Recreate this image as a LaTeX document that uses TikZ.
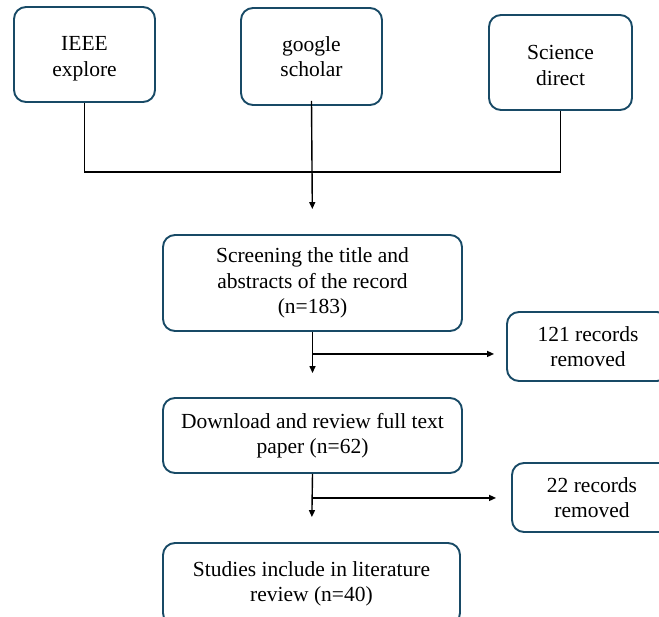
\documentclass[tikz,border=0pt]{standalone}
\usepackage{fontspec}
\setmainfont{Liberation Serif}
\usetikzlibrary{arrows.meta,calc}
\definecolor{boxline}{RGB}{24,74,102}

\begin{document}
\begin{tikzpicture}[x=1pt,y=-1pt,
  box/.style={draw=boxline,line width=1.9pt,rounded corners=12pt,fill=white,
    align=center,inner sep=2pt,font=\fontsize{21.5}{25.5}\selectfont},
  link/.style={black,line width=1.4pt},
  arr/.style={link,-{Triangle[length=7pt,width=6pt]}}]
\useasboundingbox (0,0) rectangle (659,617);
\clip (0,0) rectangle (659,617);

% sources
\node[box,minimum width=141pt,minimum height=95pt,text height=48pt] (ieee) at (84.5,54.5) {IEEE\\explore};
\node[box,minimum width=141pt,minimum height=97pt] (gs) at (311.5,56.5) {google\\scholar};
\node[box,minimum width=143pt,minimum height=95pt,text height=46pt] (sd) at (560.5,62.5) {Science\\direct};

% steps
\node[box,minimum width=299pt,minimum height=96pt] (screen) at (312.5,283) {Screening the title and\\abstracts of the record\\(n=183)};
\node[box,minimum width=299pt,minimum height=75pt] (review) at (312.5,435.5) {Download and review full text\\paper (n=62)};
\node[box,minimum width=297pt,minimum height=82pt] (incl) at (311.5,584) {Studies include in literature\\review (n=40)};

% removed
\node[box,minimum width=162pt,minimum height=69pt] (rem1) at (588,346.5) {121 records\\removed};
\node[box,minimum width=160pt,minimum height=69pt] (rem2) at (592,497.5) {22 records\\removed};

\coordinate (join) at (311,172);
\draw[black,line width=1.1pt] (ieee.south) |- (sd.south |- join) -- (sd.south);
\draw[arr,shorten >=25pt] ([yshift=5pt]gs.south) -- (screen.north);

\draw[arr,shorten >=24pt] (screen.south) -- (review.north);
\coordinate (b1) at ($(screen.south)+(0,22)$);
\draw[arr,shorten >=12pt] (b1) -- (b1 -| rem1.west);

\draw[arr,shorten >=25pt] (review.south) -- (incl.north);
\coordinate (b2) at ($(review.south)+(0,24)$);
\draw[arr,shorten >=15pt] (b2) -- (b2 -| rem2.west);
\end{tikzpicture}
\end{document}
